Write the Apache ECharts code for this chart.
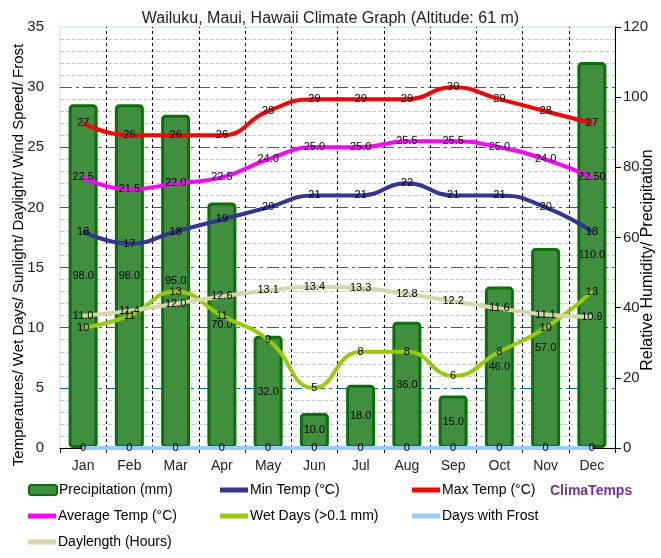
<!DOCTYPE html>
<html>
<head>
<meta charset="utf-8">
<script src="https://cdn.jsdelivr.net/npm/echarts@6/dist/echarts.min.js"></script>
<style>
  body { margin: 0; background: #fff; }
  #main { width: 661px; height: 558px; }
</style>
</head>
<body>
<div id="main"></div>
<script>
// data
var months = ["Jan", "Feb", "Mar", "Apr", "May", "Jun", "Jul", "Aug", "Sep", "Oct", "Nov", "Dec"];
var precipitation = [98, 98, 95, 70, 32, 10, 18, 36, 15, 46, 57, 110];
var minTemp = [18, 17, 18, 19, 20, 21, 21, 22, 21, 21, 20, 18];
var maxTemp = [27, 26, 26, 26, 28, 29, 29, 29, 30, 29, 28, 27];
var avgTemp = [22.5, 21.5, 22.0, 22.5, 24.0, 25.0, 25.0, 25.5, 25.5, 25.0, 24.0, 22.5];
var avgTempLabels = ["22.5", "21.5", "22.0", "22.5", "24.0", "25.0", "25.0", "25.5", "25.5", "25.0", "24.0", "22.50"];
var wetDays = [10, 11, 13, 11, 9, 5, 8, 8, 6, 8, 10, 13];
var frostDays = [0, 0, 0, 0, 0, 0, 0, 0, 0, 0, 0, 0];
var daylength = [11.0, 11.4, 12.0, 12.6, 13.1, 13.4, 13.3, 12.8, 12.2, 11.6, 11.1, 10.9];
// horizontal grid levels on the left axis
var gridLevels = [1, 2, 3, 4, 5, 6, 7, 8, 9, 10, 11, 12, 13, 14, 15, 16, 17, 18, 19, 20,
                  21, 22, 23, 24, 25, 26, 27, 28, 29, 30, 31, 32, 33, 34];
// month boundaries (on a 0..12 helper axis)
var monthEdges = [1, 2, 3, 4, 5, 6, 7, 8, 9, 10, 11];

var font = "Liberation Sans, Arial, sans-serif";
var majorBlue = "#0a66e0";
var minorGrey = "#c4ccdc";

var hLines = gridLevels.map(function (v) {
  var major = v % 5 === 0;
  return {
    yAxis: v,
    lineStyle: major
      ? { color: majorBlue, type: [12, 4, 3, 4], width: 1 }
      : { color: minorGrey, type: [4, 2], width: 1 }
  };
});

var vLines = monthEdges.map(function (v) {
  return { xAxis: v, lineStyle: { color: "#000", type: [3, 3], width: 1 } };
});

function lbl(fmt) {
  return { show: true, position: "inside", color: "#000", fontSize: 11, fontFamily: font, formatter: fmt };
}

function lineSeries(name, data, color, fmt) {
  return {
    name: name,
    type: "line",
    data: data,
    smooth: 0.5,
    symbol: "circle",
    symbolSize: 2,
    itemStyle: { color: color },
    lineStyle: { color: color, width: 4 },
    label: lbl(fmt),
    zlevel: 2,
    z: 3
  };
}

function markLines(data) {
  return {
    silent: true,
    zlevel: 0,
    z: 1,
    symbol: ["none", "none"],
    label: { show: false },
    emphasis: { disabled: true },
    animation: false,
    data: data
  };
}

function legendItem(name, left, top, icon, style) {
  return {
    data: [name],
    left: left,
    top: top,
    icon: icon,
    itemWidth: 28,
    itemHeight: icon === "roundRect" ? 10 : 5,
    itemGap: 0,
    padding: 0,
    itemStyle: style,
    textStyle: { fontSize: 14, color: "#000", fontFamily: font, padding: [0, 0, 0, -3] }
  };
}

var myChart = echarts.init(document.getElementById("main"));

var option = {
  animation: false,
  backgroundColor: "#fff",
  title: {
    text: "Wailuku, Maui, Hawaii Climate Graph (Altitude: 61 m)",
    left: "center",
    top: 6,
    textStyle: { fontSize: 16, fontWeight: "normal", color: "#222", fontFamily: font }
  },
  grid: {
    left: 60, right: 46, top: 27, bottom: 110,
    show: true, borderColor: "#c6e6c6", borderWidth: 1
  },
  legend: [
    legendItem("Precipitation (mm)", 28, 483, "roundRect", { color: "#3f8f3f", borderColor: "#0a700a", borderWidth: 2 }),
    legendItem("Min Temp (°C)", 220, 483, "rect", { color: "#333399" }),
    legendItem("Max Temp (°C)", 412, 483, "rect", { color: "#ff0000" }),
    legendItem("Average Temp (°C)", 28, 509, "rect", { color: "#ff00ff" }),
    legendItem("Wet Days (>0.1 mm)", 220, 509, "rect", { color: "#99cc00" }),
    legendItem("Days with Frost", 412, 509, "rect", { color: "#99ccff" }),
    legendItem("Daylength (Hours)", 28, 535, "rect", { color: "#d6d6a8" })
  ],
  graphic: [
    {
      type: "text",
      left: 550,
      top: 484,
      style: { text: "ClimaTemps", fill: "#7030a0", font: "bold 14px " + font }
    },
    {
      type: "text",
      x: 19, y: 255,
      rotation: Math.PI / 2,
      style: {
        text: "Temperatures/ Wet Days/ Sunlight/ Daylight/ Wind Speed/ Frost",
        fill: "#000", font: "15px " + font, align: "center", verticalAlign: "middle"
      }
    },
    {
      type: "text",
      x: 648, y: 260,
      rotation: Math.PI / 2,
      style: {
        text: "Relative Humidity/ Precipitation",
        fill: "#000", font: "16px " + font, align: "center", verticalAlign: "middle"
      }
    }
  ],
  xAxis: [
    {
      type: "category",
      data: months,
      zlevel: 1,
      axisLine: { lineStyle: { color: "#000" } },
      axisTick: { show: true, interval: 0, length: 5, lineStyle: { color: "#000" } },
      axisLabel: { fontSize: 14, color: "#222", fontFamily: font, margin: 11 },
      splitLine: { show: false }
    },
    {
      // helper axis for the month divider lines
      type: "value",
      min: 0, max: 12,
      show: false
    }
  ],
  yAxis: [
    {
      type: "value",
      position: "left",
      zlevel: 1,
      min: 0, max: 35, interval: 5,
      axisLine: { show: false },
      axisTick: { show: false },
      axisLabel: { fontSize: 15, color: "#222", fontFamily: font, margin: 16 },
      splitLine: { show: false }
    },
    {
      type: "value",
      position: "right",
      zlevel: 1,
      min: 0, max: 120, interval: 20,
      axisLine: { show: true, lineStyle: { color: "#000" } },
      axisTick: { show: true, length: 6, lineStyle: { color: "#000" } },
      axisLabel: { fontSize: 15, color: "#222", fontFamily: font, margin: 8 },
      splitLine: { show: false }
    }
  ],
  series: [
    {
      name: "hgrid",
      type: "line",
      xAxisIndex: 0,
      yAxisIndex: 0,
      data: months.map(function () { return null; }),
      showSymbol: false,
      silent: true,
      zlevel: 0,
      z: 1,
      markLine: markLines(hLines)
    },
    {
      name: "vgrid",
      type: "line",
      xAxisIndex: 1,
      yAxisIndex: 0,
      data: [[0, null]],
      showSymbol: false,
      silent: true,
      zlevel: 0,
      z: 1,
      markLine: markLines(vLines)
    },
    {
      name: "Precipitation (mm)",
      type: "bar",
      yAxisIndex: 1,
      data: precipitation,
      barWidth: 29,
      itemStyle: { color: "#3f8f3f", borderColor: "#0a700a", borderWidth: 3, borderRadius: 3 },
      label: lbl(function (p) { return p.value.toFixed(1); }),
      zlevel: 2,
      z: 2
    },
    lineSeries("Min Temp (°C)", minTemp, "#333399", function (p) { return String(p.value); }),
    lineSeries("Max Temp (°C)", maxTemp, "#ff0000", function (p) { return String(p.value); }),
    lineSeries("Average Temp (°C)", avgTemp, "#ff00ff", function (p) { return avgTempLabels[p.dataIndex]; }),
    lineSeries("Wet Days (>0.1 mm)", wetDays, "#99cc00", function (p) { return String(p.value); }),
    lineSeries("Days with Frost", frostDays, "#99ccff", function (p) { return String(p.value); }),
    lineSeries("Daylength (Hours)", daylength, "#d6d6a8", function (p) { return p.value.toFixed(1); })
  ]
};

myChart.setOption(option);
</script>
</body>
</html>
